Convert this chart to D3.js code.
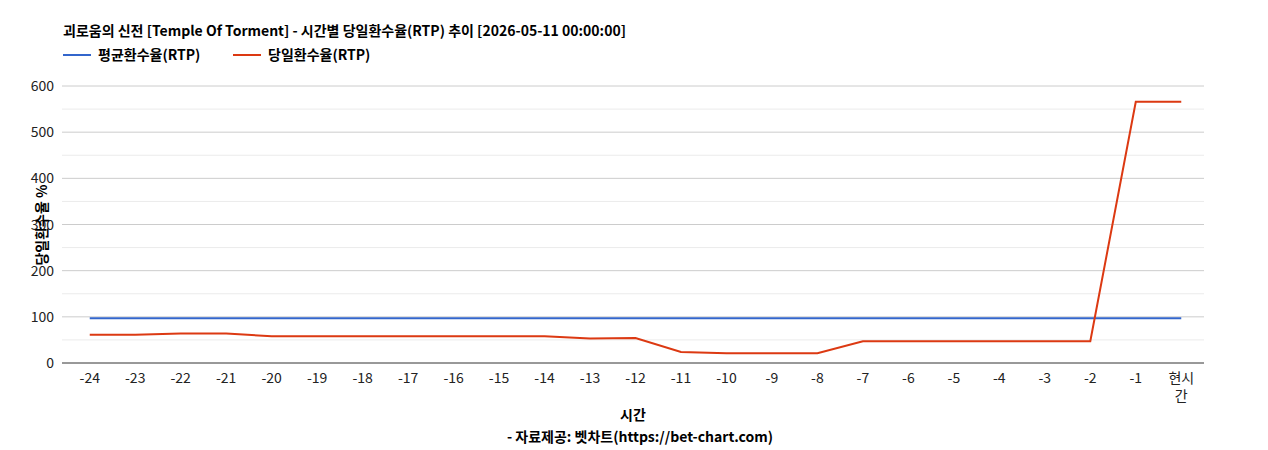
<!DOCTYPE html>
<html><head><meta charset="utf-8">
<script src="https://cdn.jsdelivr.net/npm/d3@7"></script>
<style>body{margin:0;background:#fff;font-family:"Noto Sans CJK KR","Noto Sans",sans-serif}</style>
</head><body><svg id="chart" width="1268" height="450"></svg>
<script>
const categories = ["-24","-23","-22","-21","-20","-19","-18","-17","-16","-15","-14","-13","-12","-11","-10","-9","-8","-7","-6","-5","-4","-3","-2","-1","현시간"];
const avgRtp = [97,97,97,97,97,97,97,97,97,97,97,97,97,97,97,97,97,97,97,97,97,97,97,97,97];
const dayRtp = [61,61,64,64,58,58,58,58,58,58,58,53,54,24,21,21,21,47,47,47,47,47,47,566,566];
const yTicks = [0,100,200,300,400,500,600];
const seriesNames = ["평균환수율(RTP)","당일환수율(RTP)"];
const colors = ["#3366cc","#dc3912"];

const svg = d3.select('#chart');
const plotLeft = 62, plotRight = 1204, plotTop = 86, plotBottom = 363;
const x = d3.scalePoint().domain(categories).range([67, plotRight]).padding(0.5);
const y = d3.scaleLinear().domain([0, 600]).range([plotBottom, plotTop]);

// grid
svg.append('g').selectAll('line').data(d3.range(50, 600, 100)).enter().append('line')
  .attr('x1', plotLeft).attr('x2', plotRight).attr('y1', d => y(d)).attr('y2', d => y(d))
  .attr('stroke', '#ebebeb');
svg.append('g').selectAll('line').data(yTicks.slice(1)).enter().append('line')
  .attr('x1', plotLeft).attr('x2', plotRight).attr('y1', d => y(d)).attr('y2', d => y(d))
  .attr('stroke', '#cccccc');
svg.append('line').attr('x1', plotLeft).attr('x2', plotRight).attr('y1', plotBottom).attr('y2', plotBottom).attr('stroke', '#333');

svg.append('g').selectAll('text').data(yTicks).enter().append('text')
  .attr('x', plotLeft - 8).attr('y', d => y(d) + 5).attr('text-anchor', 'end')
  .attr('font-size', 14).attr('fill', '#222').text(d => d);

const xl = svg.append('g').selectAll('text').data(categories).enter().append('text')
  .attr('x', d => x(d)).attr('y', 383).attr('text-anchor', 'middle')
  .attr('font-size', 14).attr('fill', '#222');
xl.each(function(d) {
  const t = d3.select(this);
  if (d === '현시간') {
    t.append('tspan').attr('x', x(d)).attr('dy', 0).text('현시');
    t.append('tspan').attr('x', x(d)).attr('dy', 18).text('간');
  } else t.text(d);
});

const line = d3.line().x((d, i) => x(categories[i])).y(d => y(d));
[avgRtp, dayRtp].forEach((s, i) => {
  svg.append('path').datum(s).attr('d', line).attr('fill', 'none')
    .attr('stroke', colors[i]).attr('stroke-width', 2);
});

svg.append('text').attr('x', 63).attr('y', 36).attr('font-size', 14).attr('font-weight', 'bold')
  .attr('fill', '#000').text('괴로움의 신전 [Temple Of Torment] - 시간별 당일환수율(RTP) 추이 [2026-05-11 00:00:00]');

const lg = [[63, 0], [233, 1]];
lg.forEach(([lx, i]) => {
  svg.append('line').attr('x1', lx).attr('x2', lx + 28).attr('y1', 55).attr('y2', 55)
    .attr('stroke', colors[i]).attr('stroke-width', 2);
  svg.append('text').attr('x', lx + 35).attr('y', 60).attr('font-size', 14).attr('font-weight', 'bold')
    .text(seriesNames[i]);
});

svg.append('text').attr('transform', 'translate(47,225) rotate(-90)').attr('text-anchor', 'middle')
  .attr('font-size', 14).attr('font-weight', 'bold').text('당일환수율 %');
svg.append('text').attr('x', 633).attr('y', 420).attr('text-anchor', 'middle')
  .attr('font-size', 14).attr('font-weight', 'bold').text('시간');
svg.append('text').attr('x', 640).attr('y', 442).attr('text-anchor', 'middle')
  .attr('font-size', 14).attr('font-weight', 'bold').text('- 자료제공: 벳차트(https://bet-chart.com)');
</script></body></html>
